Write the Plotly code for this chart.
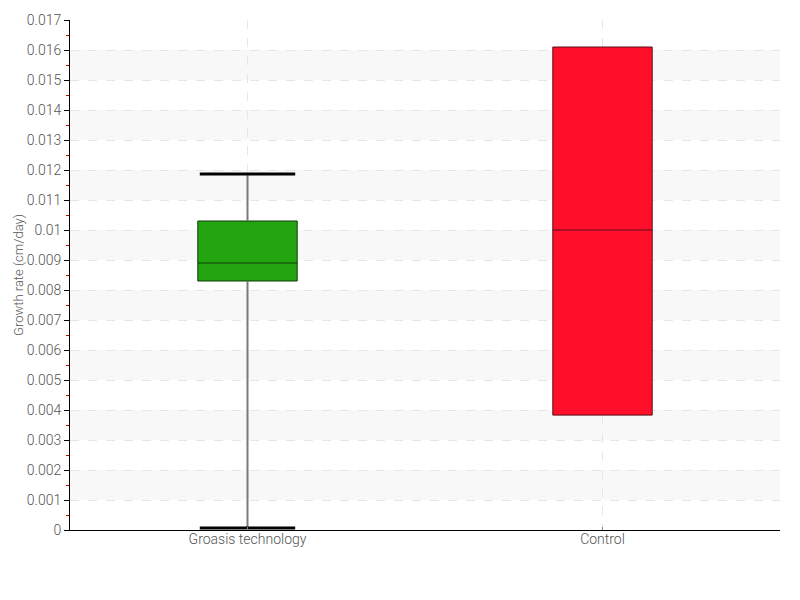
import plotly.graph_objects as go

categories = ["Groasis technology", "Control"]
lower = [0.00007, 0.00383]
q1 = [0.0083, 0.00383]
median = [0.0089, 0.0100]
q3 = [0.0103, 0.0161]
upper = [0.01187, 0.0161]
fill_colors = ["#22A50E", "#FF0F2A"]
line_colors = ["#0f3a08", "#5a1018"]
y_ticks = [i / 1000 for i in range(0, 18)]
y_ticktext = ["0"] + [f"{v:g}" for v in y_ticks[1:]]

FONT = "Roboto, sans-serif"
BW = 0.28

fig = go.Figure()

# alternating background bands
for k in range(1, 17, 2):
    fig.add_shape(type="rect", xref="paper", yref="y", x0=0, x1=1,
                  y0=y_ticks[k], y1=y_ticks[k + 1],
                  fillcolor="#f8f8f8", line_width=0, layer="below")

for i, cat in enumerate(categories):
    fig.add_trace(go.Box(
        x=[i], q1=[q1[i]], median=[median[i]], q3=[q3[i]],
        lowerfence=[lower[i]], upperfence=[upper[i]],
        width=BW, whiskerwidth=0, fillcolor=fill_colors[i],
        line=dict(color=line_colors[i], width=1), name=cat,
        boxpoints=False, hoverinfo="skip"))
    if upper[i] > q3[i]:
        fig.add_trace(go.Scatter(x=[i, i], y=[q3[i], upper[i]], mode="lines",
                                 line=dict(color="#7a7a7a", width=2), hoverinfo="skip"))
        fig.add_trace(go.Scatter(x=[i - BW / 2 * 0.96, i + BW / 2 * 0.96], y=[upper[i], upper[i]],
                                 mode="lines", line=dict(color="#000", width=3), hoverinfo="skip"))
    if lower[i] < q1[i]:
        fig.add_trace(go.Scatter(x=[i, i], y=[lower[i], q1[i]], mode="lines",
                                 line=dict(color="#7a7a7a", width=2), hoverinfo="skip"))
        fig.add_trace(go.Scatter(x=[i - BW / 2 * 0.96, i + BW / 2 * 0.96], y=[lower[i], lower[i]],
                                 mode="lines", line=dict(color="#000", width=3), hoverinfo="skip"))

minor_vals = [(y_ticks[k] + y_ticks[k + 1]) / 2 for k in range(17)]

fig.update_layout(
    width=800, height=600, showlegend=False,
    paper_bgcolor="white", plot_bgcolor="white",
    margin=dict(l=62, r=28, t=12, b=78),
    font=dict(family=FONT, color="#555", size=14, weight=300),
    xaxis=dict(range=[-0.5, 1.5], tickvals=[0, 1], ticktext=categories,
               showline=True, linecolor="#000", linewidth=1, automargin=False,
               ticks="inside", ticklen=3, tickcolor="#888", ticklabelstandoff=-4,
               showgrid=True, gridcolor="#e6e6e6", griddash="dash", gridwidth=1,
               zeroline=False, tickfont=dict(size=14, color="#555", weight=300)),
    yaxis=dict(range=[0, 0.017], tickvals=y_ticks, ticktext=y_ticktext,
               showline=True, linecolor="#000", linewidth=1, automargin=False,
               ticks="outside", ticklen=5, tickcolor="#000",
               showgrid=True, gridcolor="#e6e6e6", griddash="dash", gridwidth=1,
               zeroline=False, tickfont=dict(size=14, color="#555", weight=300),
               minor=dict(tickvals=minor_vals, ticks="outside", ticklen=3,
                          tickcolor="#d00000", showgrid=False),
               title=dict(text="Growth rate (cm/day)",
                          font=dict(size=13, color="#555", weight=300),
                          standoff=0)),
)

fig.write_html("out.html")
